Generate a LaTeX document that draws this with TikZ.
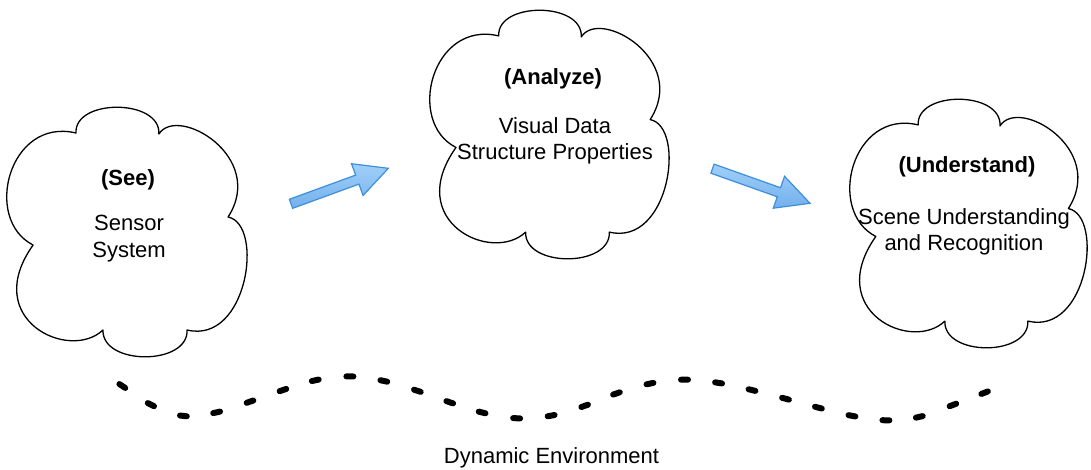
\documentclass[tikz,border=0pt]{standalone}
\usepackage{fontspec}
\setmainfont{Liberation Sans}
\usetikzlibrary{calc}

\definecolor{flowfill1}{RGB}{160,208,249}
\definecolor{flowfill2}{RGB}{116,176,236}
\definecolor{flowedge}{RGB}{62,142,218}

\tikzset{
  cloudline/.style={draw=black, line width=1.3pt, line join=round},
  txt/.style={anchor=base, inner sep=0pt, font=\fontsize{22}{26}\selectfont},
  ttl/.style={anchor=base, inner sep=0pt, font=\fontsize{22}{26}\selectfont\bfseries},
  flow/.style={draw=flowedge, line width=1.2pt, line join=miter,
               top color=flowfill1, bottom color=flowfill2},
  wavedot/.style={line width=6pt, line cap=round}
}

% block arrow from #1 to #2 (shaft half width 4.8, head half width 16.9, head length 33)
\newcommand\blockarrow[2]{%
  \coordinate (#1-hb) at ($(#2)!33pt!(#1)$);
  \path[flow] ($(#1)!4.8pt!90:(#2)$) -- ($(#1-hb)!4.8pt!90:(#2)$)
    -- ($(#1-hb)!16.9pt!90:(#2)$) -- (#2)
    -- ($(#1-hb)!16.9pt!-90:(#2)$) -- ($(#1-hb)!4.8pt!-90:(#2)$)
    -- ($(#1)!4.8pt!-90:(#2)$) -- cycle;
}

\begin{document}
\begin{tikzpicture}[x=1pt, y=-1pt]
  \useasboundingbox (0,0) rectangle (1091,470);
  \fill[white] (0,0) rectangle (1091,470);

  % three clouds, each given by its left/top/right/bottom extent
  \foreach \L/\T/\R/\B in {9/107/250/357, 432/10/672/259, 852/99/1090/348} {
    \pgfmathsetmacro\W{\R-\L}
    \pgfmathsetmacro\H{\B-\T}
    \begin{scope}[shift={(\L,\T)}, x=\W pt, y=-\H pt]
      \draw[cloudline] (0.278,0.104)
        .. controls (0.27,-0.034) and (0.63,-0.034) .. (0.622,0.108)
        .. controls (0.70,-0.01) and (1.07,0.20) .. (0.909,0.44)
        .. controls (1.06,0.47) and (0.99,0.95) .. (0.739,0.892)
        .. controls (0.745,1.035) and (0.385,1.035) .. (0.39,0.892)
        .. controls (0.25,1.02) and (-0.12,0.85) .. (0.10,0.552)
        .. controls (-0.11,0.45) and (0.0,0.04) .. (0.278,0.104) -- cycle;
    \end{scope}
  }

  % cloud texts
  \node[ttl] (see) at (128,186) {(See)};
  \node[txt] (see1) at (129,231) {Sensor};
  \node[txt] (see2) at (129,257) {System};

  \node[ttl] (ana) at (553,85) {(Analyze)};
  \node[txt] (ana1) at (555,133.5) {Visual Data};
  \node[txt] (ana2) at (555,160) {Structure Properties};

  \node[ttl] (und) at (967,173) {(Understand)};
  \node[txt] (und1) at (964,225) {Scene Understanding};
  \node[txt] (und2) at (964,251) {and Recognition};

  % block arrows between the stages
  \coordinate (a1s) at (291,203.8);
  \coordinate (a1e) at (388.3,168.3);
  \coordinate (a2s) at (712.5,168.7);
  \coordinate (a2e) at (810,203.3);
  \blockarrow{a1s}{a1e}
  \blockarrow{a2s}{a2e}

  % dotted wave
  \foreach \x/\y [count=\i] in {122.3/386.0, 150.7/405.0, 183.3/416.7, 216.7/412.7,
      250.0/401.7, 282.9/390.0, 315.2/380.0, 349.9/376.0, 383.9/380.7, 417.4/390.7,
      449.7/402.3, 482.0/412.7, 516.6/418.7, 551.2/416.0, 584.7/406.0, 616.4/393.3,
      649.9/383.3, 684.5/379.3, 718.6/382.7, 752.0/390.0, 785.5/398.7, 818.4/407.7,
      851.9/416.0, 885.9/420.7, 919.4/417.3, 952.9/405.0, 984.6/392.7}
    \coordinate (w\i) at (\x,\y);
  \draw[wavedot] ($(w1)!-3.5pt!(w2)$) -- ($(w1)!3.5pt!(w2)$);
  \foreach \i in {2,...,26} {
    \pgfmathtruncatemacro\p{\i-1}
    \pgfmathtruncatemacro\n{\i+1}
    \draw[wavedot] ($(w\i)!3.5pt!(w\p)$) -- ($(w\i)!3.5pt!(w\n)$);
  }
  \draw[wavedot] ($(w27)!3.5pt!(w26)$) -- ($(w27)!-3.5pt!(w26)$);

  \node[txt] (env) at (551.5,463) {Dynamic Environment};
\end{tikzpicture}
\end{document}
